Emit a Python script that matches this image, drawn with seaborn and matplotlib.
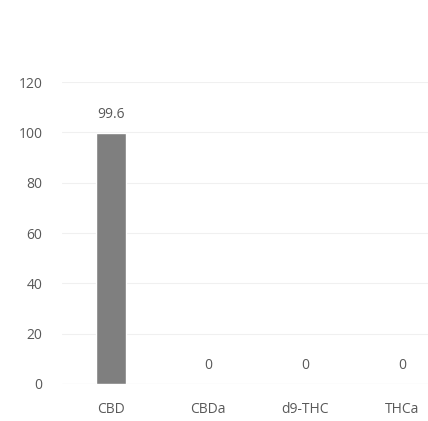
import matplotlib
matplotlib.use("Agg")
import matplotlib.pyplot as plt
import seaborn as sns
import pandas as pd

categories = ["CBD", "CBDa", "d9-THC", "THCa"]
values = [99.6, 0, 0, 0]
value_labels = ["99.6", "0", "0", "0"]
yticks = [0, 20, 40, 60, 80, 100, 120]

sns.set_theme(style="white")
plt.rcParams['font.family'] = ['Open Sans', 'DejaVu Sans']

df = pd.DataFrame({"cat": categories, "val": values})

fig = plt.figure(figsize=(4.28, 4.21), dpi=100)
ax = fig.add_axes([0.145, 0.088, 0.855, 0.717])
sns.barplot(data=df, x="cat", y="val", color="#7f7f7f", saturation=1,
            width=0.3, ax=ax, zorder=3)

ax.set_ylim(0, 120)
ax.set_xlim(-0.505, 3.27)
ax.set_yticks(yticks)
ax.set_yticklabels([str(t) for t in yticks])
ax.yaxis.grid(True, color="#f0f0f0", linewidth=0.8, zorder=0)
ax.set_xlabel("")
ax.set_ylabel("")
for s in ax.spines.values():
    s.set_visible(False)
ax.axhline(0, color="#e3e3e3", linewidth=0.8, zorder=2)
ax.tick_params(axis="both", length=0, labelsize=10, colors="#595959")
ax.tick_params(axis="y", pad=14)
ax.tick_params(axis="x", pad=13)

for i, (v, lab) in enumerate(zip(values, value_labels)):
    ax.annotate(lab, (i, v), xytext=(0, 8), textcoords="offset points",
                ha="center", va="bottom", fontsize=10, color="#595959")

fig.savefig("out.png", dpi=100)
